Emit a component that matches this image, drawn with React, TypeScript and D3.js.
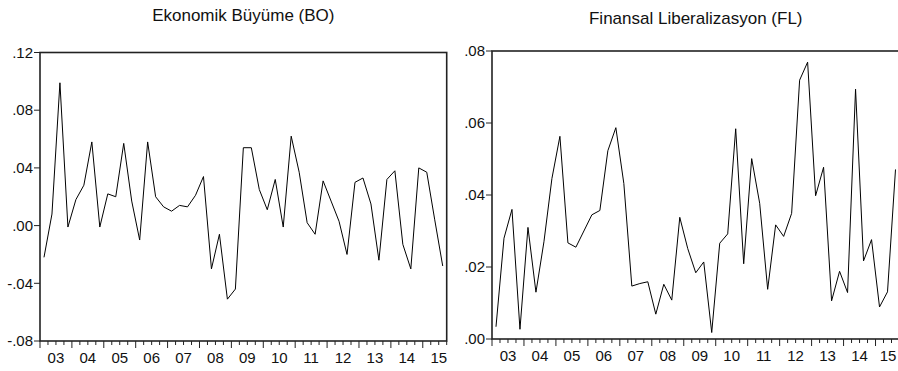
import React from "react";
import * as d3 from "d3";

// quarterly, 2003Q1 .. 2015Q3
const boValues = [
  -0.022, 0.008, 0.099, -0.001, 0.018, 0.028, 0.058, -0.001, 0.022, 0.02,
  0.057, 0.017, -0.01, 0.058, 0.02, 0.013, 0.01, 0.014, 0.013, 0.021,
  0.034, -0.03, -0.006, -0.051, -0.044, 0.054, 0.054, 0.025, 0.011, 0.032,
  -0.001, 0.062, 0.037, 0.002, -0.006, 0.031, 0.017, 0.003, -0.02, 0.03,
  0.033, 0.015, -0.024, 0.032, 0.038, -0.013, -0.03, 0.04, 0.037, 0.004,
  -0.028,
];
const flValues = [
  0.0034, 0.028, 0.036, 0.0027, 0.031, 0.013, 0.027, 0.0446, 0.0563, 0.0267,
  0.0255, 0.03, 0.0345, 0.0357, 0.0523, 0.0587, 0.0432, 0.0147, 0.0154, 0.0159,
  0.0069, 0.0152, 0.0108, 0.0338, 0.0251, 0.0184, 0.0214, 0.0018, 0.0266, 0.0292,
  0.0584, 0.0209, 0.0501, 0.0377, 0.0138, 0.0317, 0.0285, 0.0349, 0.0719, 0.0769,
  0.0398, 0.0477, 0.0106, 0.0188, 0.0129, 0.0694, 0.0217, 0.0276, 0.0089, 0.0131,
  0.0471,
];
const yearLabels = ["03", "04", "05", "06", "07", "08", "09", "10", "11", "12", "13", "14", "15"];
const boTicks = [-0.08, -0.04, 0, 0.04, 0.08, 0.12];
const boTickLabels = ["-.08", "-.04", ".00", ".04", ".08", ".12"];
const flTicks = [0, 0.02, 0.04, 0.06, 0.08];
const flTickLabels = [".00", ".02", ".04", ".06", ".08"];

const W = 898;
const H = 371;
const FONT = "'Liberation Sans', Arial, sans-serif";

type PanelProps = {
  title: string;
  values: number[];
  ticks: number[];
  tickLabels: string[];
  left: number;
  right: number;
  top: number;
  bottom: number;
  titleY: number;
};

function Panel({ title, values, ticks, tickLabels, left, right, top, bottom, titleY }: PanelProps) {
  const nQ = values.length;
  const x = d3.scaleLinear().domain([0, nQ]).range([left, right]);
  const y = d3.scaleLinear().domain([ticks[0], ticks[ticks.length - 1]]).range([bottom, top]);
  const line = d3.line<number>().x((_, i) => x(i + 0.5)).y((d) => y(d));

  return (
    <g>
      <text x={(left + right) / 2} y={titleY} textAnchor="middle" fontSize={17} fontFamily={FONT} fill="#111">
        {title}
      </text>
      {/* y ticks */}
      {ticks.map((t, i) => (
        <g key={t}>
          <line x1={left - 6} x2={left} y1={y(t)} y2={y(t)} stroke="#222" strokeWidth={1} />
          <text x={left - 7} y={y(t)} dy="0.35em" textAnchor="end" fontSize={15} fontFamily={FONT} fill="#111">
            {tickLabels[i]}
          </text>
        </g>
      ))}
      {/* x ticks: quarters minor, years major */}
      {d3.range(0, nQ + 1).map((q) => (
        <line key={q} x1={x(q)} x2={x(q)} y1={bottom} y2={bottom + (q % 4 === 0 ? 7 : 4)} stroke="#222" strokeWidth={1} />
      ))}
      {yearLabels.map((lab, k) => (
        <text key={lab} x={Math.min(x(4 * k + 2), W - 10)} y={bottom + 22} textAnchor="middle" fontSize={15} fontFamily={FONT} fill="#111">
          {lab}
        </text>
      ))}
      <path d={line(values) ?? ""} fill="none" stroke="#000" strokeWidth={1} />
      <rect x={left} y={top} width={right - left} height={bottom - top} fill="none" stroke="#222" strokeWidth={1.6} />
    </g>
  );
}

export default function App() {
  return (
    <svg width={W} height={H} style={{ position: "absolute", left: 0, top: 0, background: "#fff" }}>
      <rect width={W} height={H} fill="#fff" />
      <Panel
        title="Ekonomik Büyüme (BO)"
        values={boValues}
        ticks={boTicks}
        tickLabels={boTickLabels}
        left={40}
        right={446.7}
        top={52.5}
        bottom={341}
        titleY={21}
      />
      <Panel
        title="Finansal Liberalizasyon (FL)"
        values={flValues}
        ticks={flTicks}
        tickLabels={flTickLabels}
        left={492}
        right={899.5}
        top={51}
        bottom={339}
        titleY={24}
      />
    </svg>
  );
}
